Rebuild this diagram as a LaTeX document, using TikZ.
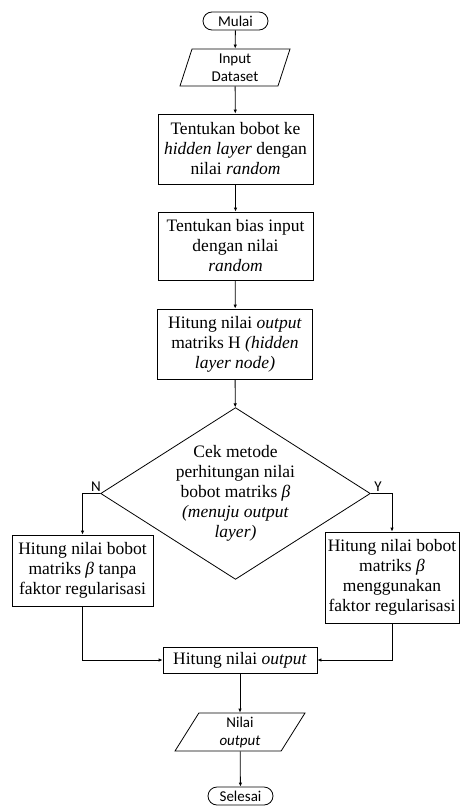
\documentclass[tikz,border=0pt]{standalone}
\usepackage{amsmath,amssymb}
\usepackage{fontspec}
\setmainfont{Liberation Serif}
\newfontfamily\calibrifont{Carlito}
\usepackage{tikz}
\usetikzlibrary{shapes.geometric,arrows.meta,positioning,calc}

\begin{document}
\begin{tikzpicture}[x=1pt, y=-1pt,
        every path/.style={line width=0.8pt},
        flowline/.style={draw, -{Latex[length=4pt, width=3.5pt]}},
        terminal/.style={draw, rectangle, rounded corners=9pt, minimum width=65pt, minimum height=18pt,
            inner sep=0pt, font=\calibrifont\fontsize{15}{18}\selectfont},
        iobox/.style={draw, trapezium, trapezium stretches body, inner sep=1pt, align=center,
            font=\calibrifont\fontsize{15}{18}\selectfont},
        process/.style={draw, rectangle, inner sep=0pt, align=center,
            font=\fontsize{17.5}{20}\selectfont},
        decision/.style={draw, diamond, aspect=1.57, inner sep=0pt, align=center,
            minimum width=265pt, minimum height=169pt, font=\fontsize{17.5}{20}\selectfont},
        branchlabel/.style={font=\calibrifont\fontsize{15}{18}\selectfont, inner sep=2pt}]
    \useasboundingbox (0,0) rectangle (461,806);

    % main column
    \node[terminal] (mulai) at (235.5,21) {Mulai};
    \node[iobox, trapezium left angle=68, trapezium right angle=112,
        minimum width=110pt, minimum height=37pt] (input) at (235,67.5) {Input\\Dataset};
    \node[process, minimum width=155pt, minimum height=70pt] (bobot) at (235.5,149)
        {Tentukan bobot ke\\\textit{hidden layer} dengan\\nilai \textit{random}};
    \node[process, minimum width=155pt, minimum height=68pt] (bias) at (235.5,246)
        {Tentukan bias input\\dengan nilai\\\textit{random}};
    \node[process, minimum width=155pt, minimum height=70pt] (matriksH) at (235,344)
        {Hitung nilai \textit{output}\\matriks H \textit{(hidden}\\\textit{layer node)}};
    \node[decision] (cek) at (235.5,493.5)
        {Cek metode\\perhitungan nilai\\bobot matriks \textit{β}\\\textit{(menuju output}\\\textit{layer)}};

    % two branches
    \node[process, minimum width=141pt, minimum height=71pt] (tanpareg) at (82.5,570.5)
        {Hitung nilai bobot\\matriks \textit{β} tanpa\\faktor regularisasi};
    \node[process, minimum width=134pt, minimum height=91pt] (denganreg) at (392,577.5)
        {Hitung nilai bobot\\matriks \textit{β}\\menggunakan\\faktor regularisasi};

    % output part
    \node[process, minimum width=154pt, minimum height=26pt] (hitungout) at (240,660)
        {Hitung nilai \textit{output}};
    \node[iobox, trapezium left angle=54, trapezium right angle=126,
        minimum width=130pt, minimum height=38pt] (nilaiout) at (240,732) {Nilai\\\textit{output}};
    \node[terminal] (selesai) at (240.5,796) {Selesai};

    % connectors
    \draw[flowline] (mulai) -- (input);
    \draw[flowline] (input) -- (bobot);
    \draw[flowline] (bobot) -- (bias);
    \draw[flowline] (bias) -- (matriksH);
    \draw[flowline] (matriksH) -- (cek);
    \draw[flowline] (cek.west) -| node[branchlabel, above, pos=0.12] {N} (tanpareg.north);
    \draw[flowline] (cek.east) -| node[branchlabel, above, pos=0.17] {Y} (denganreg.north);
    \draw[flowline] (tanpareg.south) |- (hitungout.west);
    \draw[flowline] (denganreg.south) |- (hitungout.east);
    \draw[flowline] (hitungout) -- (nilaiout);
    \draw[flowline] (nilaiout) -- (selesai);
\end{tikzpicture}
\end{document}
